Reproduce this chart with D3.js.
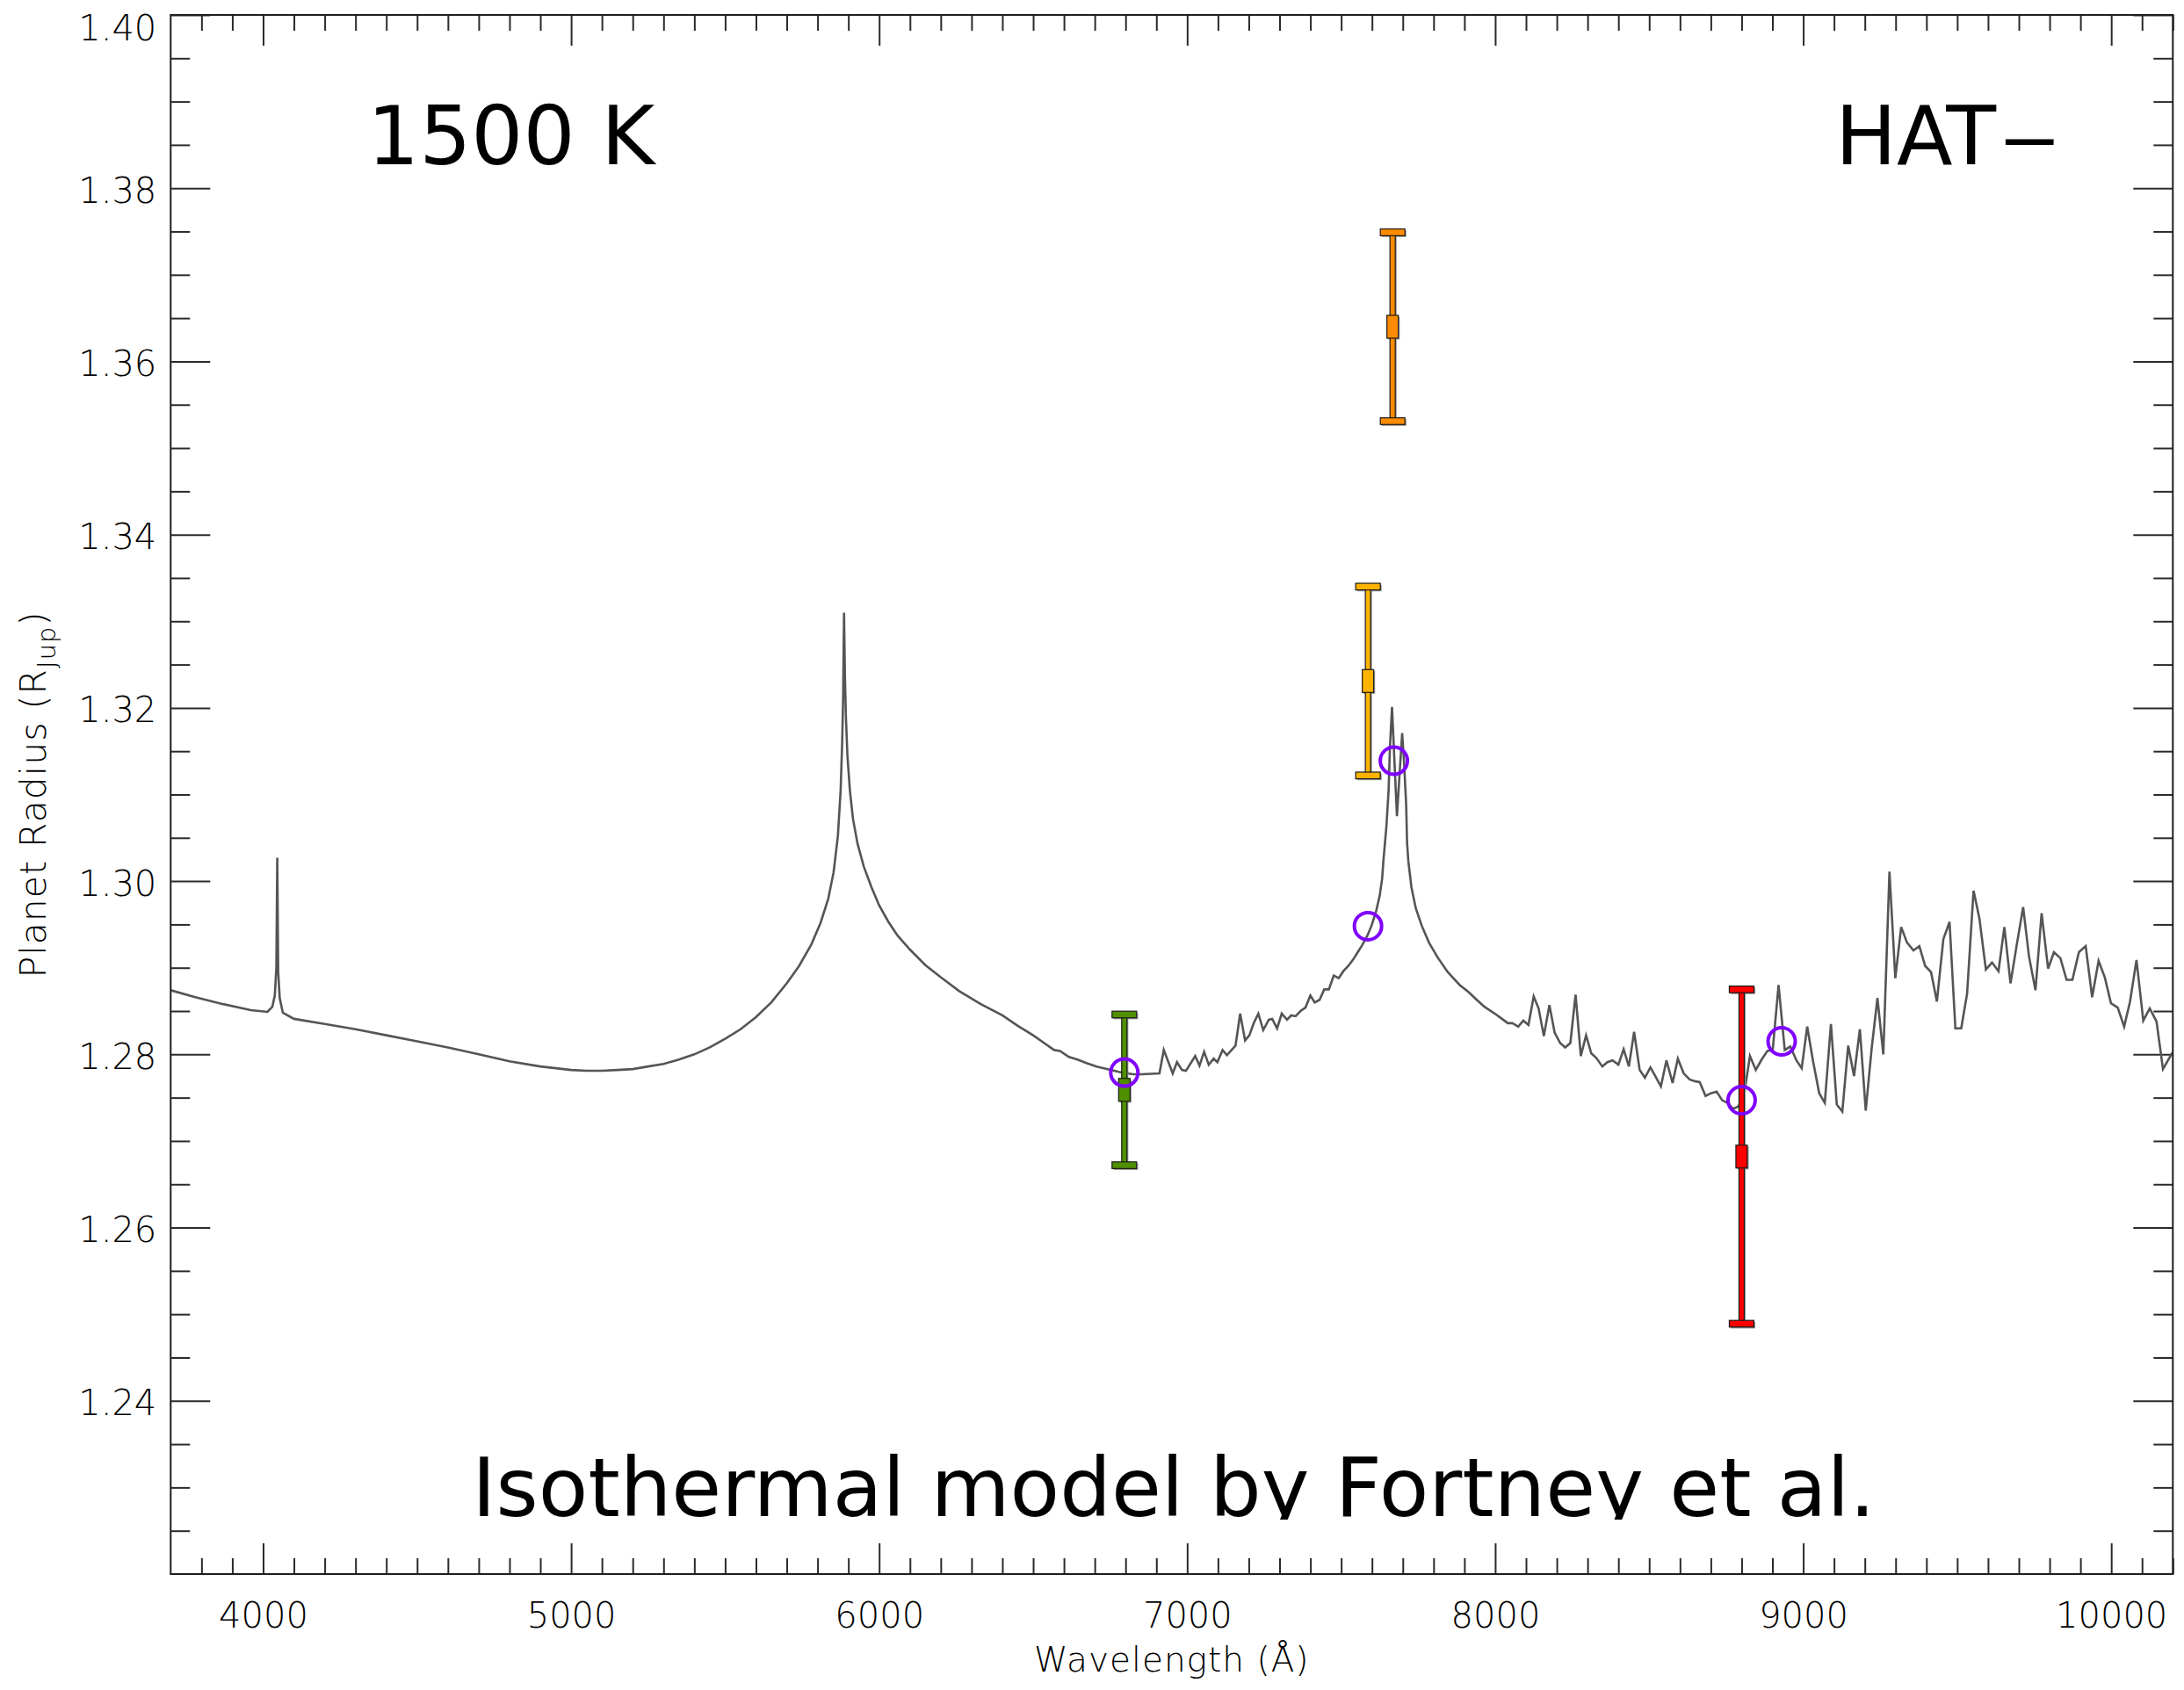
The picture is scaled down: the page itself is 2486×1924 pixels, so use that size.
<!DOCTYPE html>
<html>
<head>
<meta charset="utf-8">
<script src="https://cdn.jsdelivr.net/npm/d3@7"></script>
<style>
  html, body { margin: 0; padding: 0; background: #ffffff; }
  svg { display: block; }
</style>
</head>
<body>
<svg id="chart" width="2486" height="1924"></svg>
<script>
// Isothermal 1500 K model transmission spectrum: wavelength (Å) and planet radius (R_Jup)
const modelWavelength = [
  3700, 3780, 3870, 3960, 4014, 4030, 4038, 4043, 4046, 4049, 4054, 4064, 4100, 4200, 4300, 4400,
  4500, 4600, 4700, 4800, 4900, 4950, 5000, 5050, 5100, 5150, 5200, 5250, 5300, 5350, 5400, 5450,
  5500, 5550, 5600, 5650, 5700, 5740, 5780, 5810, 5835, 5852, 5866, 5875, 5880, 5883, 5886, 5889,
  5892, 5897, 5905, 5915, 5930, 5950, 5975, 6000, 6030, 6060, 6100, 6150, 6200, 6260, 6330, 6400,
  6450, 6500, 6540, 6568, 6587, 6616, 6644, 6673, 6706, 6739, 6787, 6825, 6853, 6910, 6924, 6953,
  6967, 6983, 6996, 7026, 7040, 7055, 7070, 7086, 7098, 7115, 7129, 7157, 7172, 7188, 7202, 7216,
  7231, 7247, 7265, 7276, 7292, 7307, 7324, 7338, 7352, 7368, 7384, 7400, 7414, 7430, 7445, 7460,
  7476, 7492, 7507, 7523, 7538, 7552, 7568, 7585, 7599, 7614, 7625, 7633, 7637, 7647, 7654, 7658,
  7665, 7681, 7698, 7704, 7711, 7714, 7718, 7728, 7742, 7761, 7785, 7813, 7846, 7885, 7913, 7937,
  7965, 8003, 8022, 8041, 8056, 8075, 8091, 8108, 8125, 8141, 8158, 8176, 8193, 8211, 8227, 8244,
  8261, 8278, 8295, 8312, 8328, 8348, 8364, 8381, 8400, 8417, 8434, 8451, 8469, 8486, 8504, 8521,
  8538, 8556, 8576, 8593, 8612, 8631, 8648, 8664, 8683, 8700, 8719, 8737, 8754, 8773, 8790, 8808,
  8827, 8846, 8865, 8884, 8901, 8920, 8940, 8958, 8978, 8995, 9013, 9032, 9052, 9070, 9090, 9109,
  9127, 9146, 9165, 9184, 9203, 9222, 9241, 9260, 9280, 9299, 9318, 9337, 9358, 9377, 9396, 9415,
  9434, 9455, 9475, 9494, 9513, 9532, 9553, 9572, 9593, 9613, 9634, 9653, 9673, 9693, 9714, 9733,
  9754, 9774, 9795, 9814, 9835, 9855, 9874, 9895, 9917, 9938, 9959, 9979, 9999, 10021, 10042, 10061,
  10082, 10104, 10125, 10147, 10168, 10197, 10215
];
const modelRadius = [
  1.2874, 1.2866, 1.2858, 1.2851, 1.2849, 1.2855, 1.2868, 1.2900, 1.3027, 1.2895, 1.2865, 1.2848, 1.2841, 1.2835, 1.2829, 1.2822,
  1.2815, 1.2808, 1.2800, 1.2792, 1.2786, 1.2784, 1.2782, 1.2781, 1.2781, 1.2782, 1.2783, 1.2786, 1.2789, 1.2794, 1.2800, 1.2808,
  1.2818, 1.2829, 1.2843, 1.2860, 1.2882, 1.2902, 1.2927, 1.2952, 1.2980, 1.3010, 1.3052, 1.3105, 1.3160, 1.3210, 1.3310, 1.3235,
  1.3190, 1.3145, 1.3105, 1.3072, 1.3043, 1.3017, 1.2993, 1.2972, 1.2953, 1.2937, 1.2921, 1.2903, 1.2889, 1.2873, 1.2858, 1.2845,
  1.2833, 1.2822, 1.2812, 1.2805, 1.2804, 1.2797, 1.2794, 1.2790, 1.2786, 1.2783, 1.2779, 1.2777, 1.2777, 1.2778, 1.2805, 1.2778,
  1.2791, 1.2782, 1.2781, 1.2798, 1.2787, 1.2803, 1.2788, 1.2795, 1.2791, 1.2805, 1.2799, 1.2810, 1.2847, 1.2816, 1.2822, 1.2836,
  1.2847, 1.2828, 1.2840, 1.2841, 1.2830, 1.2847, 1.2840, 1.2845, 1.2844, 1.2850, 1.2854, 1.2868, 1.2860, 1.2863, 1.2875, 1.2875,
  1.2891, 1.2888, 1.2896, 1.2902, 1.2909, 1.2917, 1.2926, 1.2937, 1.2949, 1.2966, 1.2983, 1.3003, 1.3023, 1.3064, 1.3105, 1.3152,
  1.3201, 1.3075, 1.3171, 1.3138, 1.3088, 1.3044, 1.3023, 1.2993, 1.2969, 1.2949, 1.2929, 1.2912, 1.2895, 1.2880, 1.2872, 1.2864,
  1.2855, 1.2846, 1.2841, 1.2836, 1.2836, 1.2832, 1.2839, 1.2834, 1.2867, 1.2853, 1.2821, 1.2857, 1.2825, 1.2813, 1.2808, 1.2813,
  1.2869, 1.2798, 1.2822, 1.2801, 1.2796, 1.2786, 1.2791, 1.2793, 1.2788, 1.2806, 1.2786, 1.2826, 1.2782, 1.2773, 1.2785, 1.2774,
  1.2763, 1.2793, 1.2767, 1.2795, 1.2778, 1.2771, 1.2769, 1.2768, 1.2752, 1.2755, 1.2757, 1.2747, 1.2744, 1.2737, 1.2740, 1.2753,
  1.2798, 1.2782, 1.2794, 1.2804, 1.2805, 1.2880, 1.2805, 1.2809, 1.2793, 1.2784, 1.2832, 1.2792, 1.2755, 1.2744, 1.2835, 1.2742,
  1.2734, 1.2810, 1.2775, 1.2829, 1.2735, 1.2806, 1.2865, 1.2800, 1.3011, 1.2888, 1.2947, 1.2929, 1.2920, 1.2925, 1.2902, 1.2895,
  1.2861, 1.2933, 1.2953, 1.2830, 1.2830, 1.2870, 1.2989, 1.2957, 1.2898, 1.2906, 1.2896, 1.2947, 1.2882, 1.2926, 1.2970, 1.2913,
  1.2874, 1.2963, 1.2899, 1.2918, 1.2911, 1.2886, 1.2886, 1.2918, 1.2925, 1.2866, 1.2908, 1.2889, 1.2859, 1.2854, 1.2832, 1.2861,
  1.2909, 1.2839, 1.2853, 1.2838, 1.2783, 1.2801, 1.2804
];

// Broadband transit radii with 1-sigma uncertainties
const bandWavelength = [6796, 7587, 7667, 8800];
const bandRadius     = [1.2759, 1.3231, 1.3640, 1.2682];
const bandError      = [0.0087, 0.0109, 0.0109, 0.0193];
const bandColor      = ["#4f8f00", "#ffb300", "#ff8c00", "#ff0000"];

// Model integrated over each bandpass
const binWavelength = [6796, 7587, 7671, 8800, 8930];
const binRadius     = [1.2779, 1.2948, 1.3139, 1.2747, 1.2815];

// Axis ticks
const xTickValues = [4000, 5000, 6000, 7000, 8000, 9000, 10000];
const xTickLabels = ["4000", "5000", "6000", "7000", "8000", "9000", "10000"];
const yTickValues = [1.24, 1.26, 1.28, 1.30, 1.32, 1.34, 1.36, 1.38, 1.40];
const yTickLabels = ["1.24", "1.26", "1.28", "1.30", "1.32", "1.34", "1.36", "1.38", "1.40"];

const plot = { left: 194.3, right: 2473.3, top: 17, bottom: 1792 };

const x = d3.scaleLinear().domain([3700, 10200]).range([plot.left, plot.right]);
const y = d3.scaleLinear().domain([1.22, 1.40]).range([plot.bottom, plot.top]);

const svg = d3.select("#chart");
const tickFont = "'DejaVu Sans', sans-serif";

svg.append("rect").attr("width", 2486).attr("height", 1924).attr("fill", "#ffffff");

const defs = svg.append("defs");
defs.append("clipPath").attr("id", "plot-clip")
  .append("rect")
  .attr("x", plot.left).attr("y", plot.top)
  .attr("width", plot.right - plot.left).attr("height", plot.bottom - plot.top);
defs.append("clipPath").attr("id", "caption-clip")
  .append("rect")
  .attr("x", plot.left).attr("y", plot.top)
  .attr("width", plot.right - plot.left).attr("height", 1730 - plot.top);

// Minor tick positions
const xMinor = d3.range(3800, 10201, 100).filter(v => v % 1000 !== 0);
const yMinor = d3.range(0, 37).map(i => +(1.22 + i * 0.005).toFixed(3))
  .filter(v => Math.abs(v * 50 - Math.round(v * 50)) > 1e-6 && v > 1.22 && v < 1.40);

function styleAxis(g) {
  g.select(".domain").remove();
  g.selectAll(".tick line").attr("stroke", "#2a2a2a").attr("stroke-width", 2);
}

// Bottom axis
svg.append("g").attr("transform", `translate(0,${plot.bottom})`)
  .call(d3.axisBottom(x).tickValues(xMinor).tickSize(-18).tickFormat(""))
  .call(styleAxis);
const bottomMajor = svg.append("g").attr("transform", `translate(0,${plot.bottom})`)
  .call(d3.axisBottom(x).tickValues(xTickValues).tickSize(-35)
    .tickFormat((d, i) => xTickLabels[i]))
  .call(styleAxis);
bottomMajor.selectAll("text")
  .attr("y", 61).attr("dy", null)
  .attr("fill", "#000").attr("font-size", 40).attr("font-weight", 200)
  .attr("font-family", tickFont);

// Top axis (mirrored ticks)
svg.append("g").attr("transform", `translate(0,${plot.top})`)
  .call(d3.axisTop(x).tickValues(xMinor).tickSize(-18).tickFormat(""))
  .call(styleAxis);
svg.append("g").attr("transform", `translate(0,${plot.top})`)
  .call(d3.axisTop(x).tickValues(xTickValues).tickSize(-35).tickFormat(""))
  .call(styleAxis);

// Left axis
svg.append("g").attr("transform", `translate(${plot.left},0)`)
  .call(d3.axisLeft(y).tickValues(yMinor).tickSize(-22).tickFormat(""))
  .call(styleAxis);
const leftMajor = svg.append("g").attr("transform", `translate(${plot.left},0)`)
  .call(d3.axisLeft(y).tickValues(yTickValues).tickSize(-45).tickPadding(16)
    .tickFormat((d, i) => yTickLabels[i]))
  .call(styleAxis);
leftMajor.selectAll("text")
  .attr("dy", (d) => (y(d) - 14 < plot.top ? "0.70em" : "0.40em"))
  .attr("fill", "#000").attr("font-size", 40).attr("font-weight", 200)
  .attr("font-family", tickFont);

// Right axis (mirrored ticks)
svg.append("g").attr("transform", `translate(${plot.right},0)`)
  .call(d3.axisRight(y).tickValues(yMinor).tickSize(-22).tickFormat(""))
  .call(styleAxis);
svg.append("g").attr("transform", `translate(${plot.right},0)`)
  .call(d3.axisRight(y).tickValues(yTickValues).tickSize(-45).tickFormat(""))
  .call(styleAxis);

// Axis titles
svg.append("text")
  .attr("x", (plot.left + plot.right) / 2).attr("y", 1903)
  .attr("text-anchor", "middle")
  .attr("font-family", tickFont).attr("font-size", 39).attr("font-weight", 200)
  .attr("letter-spacing", 1)
  .attr("fill", "#000")
  .text("Wavelength (Å)");

const yTitle = svg.append("text")
  .attr("transform", `translate(52,${(plot.top + plot.bottom) / 2}) rotate(-90)`)
  .attr("text-anchor", "middle")
  .attr("font-family", tickFont).attr("font-size", 41).attr("font-weight", 200)
  .attr("letter-spacing", 1)
  .attr("fill", "#000");
yTitle.append("tspan").text("Planet Radius (R");
yTitle.append("tspan").attr("font-size", 29).attr("dy", 11).text("Jup");
yTitle.append("tspan").attr("dy", -11).text(")");

// Model spectrum
const line = d3.line()
  .x((d, i) => x(modelWavelength[i]))
  .y((d, i) => y(modelRadius[i]));
svg.append("path")
  .datum(modelWavelength)
  .attr("clip-path", "url(#plot-clip)")
  .attr("d", line)
  .attr("fill", "none")
  .attr("stroke", "#555555")
  .attr("stroke-width", 2.6)
  .attr("stroke-linejoin", "miter");

// Error bars with a soft drop shadow
const bars = svg.append("g");
const barData = bandWavelength.map((w, i) => ({
  w, r: bandRadius[i], e: bandError[i], c: bandColor[i]
}));
function barShapes(g, d, fill, stroke, dx) {
  const cx = x(d.w) + dx;
  const yTop = y(d.r + d.e) + dx, yBot = y(d.r - d.e) + dx, yMid = y(d.r) + dx;
  g.append("rect").attr("x", cx - 3).attr("y", yTop).attr("width", 6).attr("height", yBot - yTop)
    .attr("fill", fill).attr("stroke", stroke).attr("stroke-width", 1.2);
  [yTop, yBot].forEach(yc => {
    g.append("rect").attr("x", cx - 14).attr("y", yc - 3.8).attr("width", 28).attr("height", 7.6)
      .attr("fill", fill).attr("stroke", stroke).attr("stroke-width", 1.2);
  });
  g.append("rect").attr("x", cx - 6.5).attr("y", yMid - 13).attr("width", 13).attr("height", 26)
    .attr("fill", fill).attr("stroke", stroke).attr("stroke-width", 1.2);
}
barData.forEach(d => {
  barShapes(bars.append("g"), d, "#9a9a9a", "none", 1.6);
  barShapes(bars.append("g"), d, d.c, "#1a1a1a", 0);
});

// Band-integrated model points
svg.append("g").selectAll("circle")
  .data(binWavelength)
  .join("circle")
  .attr("cx", (d) => x(d))
  .attr("cy", (d, i) => y(binRadius[i]))
  .attr("r", 15.5)
  .attr("fill", "none")
  .attr("stroke", "#7f00ff")
  .attr("stroke-width", 4);

// Panel annotations
const labelFont = "'DejaVu Sans', Verdana, sans-serif";
svg.append("text").attr("x", 418).attr("y", 187)
  .attr("font-family", labelFont).attr("font-size", 93).attr("fill", "#000")
  .text("1500 K");
const target = svg.append("text").attr("x", 2089).attr("y", 187)
  .attr("font-family", labelFont).attr("font-size", 93).attr("fill", "#000");
target.append("tspan").text("HAT");
target.append("tspan").attr("dx", 4).attr("textLength", 68).attr("lengthAdjust", "spacingAndGlyphs").text("–");
svg.append("text").attr("x", 1336).attr("y", 1726)
  .attr("text-anchor", "middle")
  .attr("clip-path", "url(#caption-clip)")
  .attr("font-family", labelFont).attr("font-size", 92.5).attr("fill", "#000")
  .text("Isothermal model by Fortney et al.");

// Plot frame
svg.append("rect")
  .attr("x", plot.left).attr("y", plot.top)
  .attr("width", plot.right - plot.left).attr("height", plot.bottom - plot.top)
  .attr("fill", "none").attr("stroke", "#1e1e1e").attr("stroke-width", 2);
</script>
</body>
</html>
